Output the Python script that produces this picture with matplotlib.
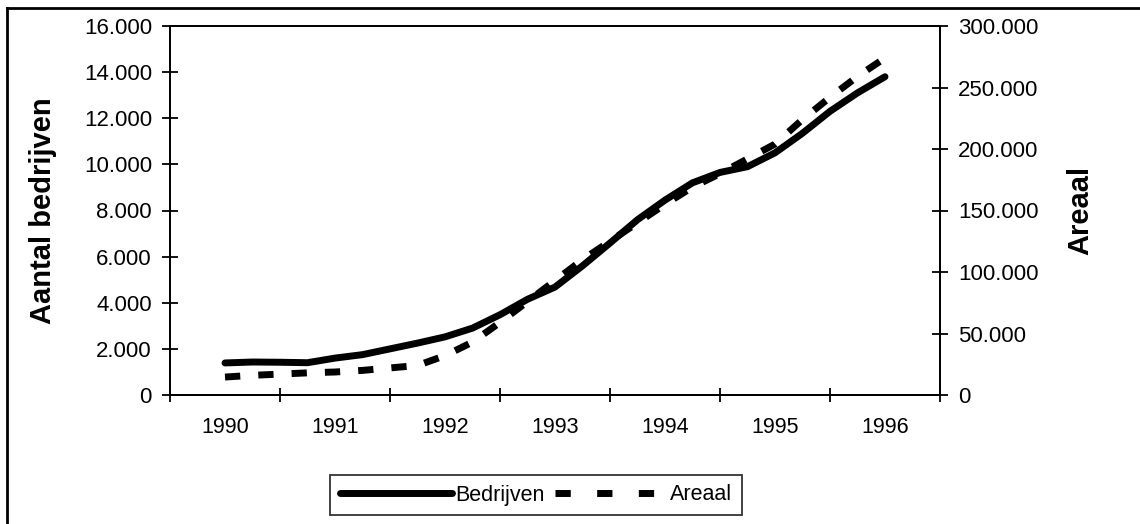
import matplotlib
matplotlib.use("Agg")
import matplotlib.pyplot as plt
from matplotlib.lines import Line2D

plt.rcParams['font.family'] = ['Liberation Sans', 'DejaVu Sans']

# kwartaalwaarden 1990 - 1996
periode = [1990 + k / 4 for k in range(25)]
jaren = ['1990', '1991', '1992', '1993', '1994', '1995', '1996']

bedrijven = [1390, 1430, 1420, 1400, 1600, 1750, 2000, 2250, 2520, 2900,
             3480, 4150, 4680, 5600, 6590, 7600, 8450, 9200, 9650, 9900,
             10500, 11350, 12300, 13100, 13800]
areaal = [14600, 16000, 17000, 18000, 18700, 20000, 22000, 24000, 32000, 43000,
          59000, 76000, 93000, 110000, 125000, 140000, 155000, 169000, 180000, 192000,
          204000, 224000, 242000, 259000, 274000]

fig = plt.figure(figsize=(11.4, 5.24), dpi=100)
ax = fig.add_axes([170 / 1140, 1 - 395 / 524, 770 / 1140, 369 / 524])
ax2 = ax.twinx()

x = [p - 1990 for p in periode]
ax.plot(x, bedrijven, color='black', lw=5, solid_capstyle='round',
        solid_joinstyle='round', zorder=3)
ax2.plot(x, areaal, color='black', lw=5, dashes=(2.2, 2.6),
         dash_capstyle='butt', zorder=2)

ax.set_xlim(-0.5, 6.5)
ax.set_ylim(0, 16000)
ax2.set_ylim(0, 300000)

ax.set_xticks([i - 0.5 for i in range(8)])
ax.set_xticklabels([])
ax.set_xticks(range(7), minor=True)
ax.set_xticklabels(jaren, minor=True)
ax.tick_params(axis='x', which='major', direction='inout', length=10, width=1.3)
ax.tick_params(axis='x', which='minor', length=0, pad=16, labelsize=15.5)

ax.set_yticks(range(0, 16001, 2000))
ax.set_yticklabels(['0'] + [f'{v // 1000}.000' for v in range(2000, 16001, 2000)])
ax.tick_params(axis='y', direction='inout', length=12, width=1.3, pad=7, labelsize=16)

ax2.set_yticks(range(0, 300001, 50000))
ax2.set_yticklabels(['0'] + [f'{v // 1000}.000' for v in range(50000, 300001, 50000)])
ax2.tick_params(axis='y', direction='inout', length=12, width=1.3, pad=7, labelsize=16)

for a in (ax, ax2):
    for s in a.spines.values():
        s.set_linewidth(1.3)

ax.set_ylabel('Aantal bedrijven', fontsize=21, fontweight='bold', labelpad=19)
ax2.set_ylabel('Areaal', fontsize=21, fontweight='bold', labelpad=20)

handles = [Line2D([], [], color='black', lw=5, solid_capstyle='round'),
           Line2D([], [], color='black', lw=5, dashes=(2.2, 3.8), dash_capstyle='butt')]
leg = fig.legend(handles, ['Bedrijven', 'Areaal'], loc='center',
                 bbox_to_anchor=(536 / 1140, 1 - 495 / 524), ncol=2,
                 handlelength=5.2, handletextpad=0.15, columnspacing=0.5,
                 fontsize=15.5, frameon=True, fancybox=False, borderpad=0.45,
                 borderaxespad=0)
leg.get_frame().set_edgecolor('black')
leg.get_frame().set_linewidth(1.3)

# rand om de figuur
fig.add_artist(Line2D([7 / 1140, 7 / 1140], [0, 1 - 8 / 524], color='black', lw=2,
                      transform=fig.transFigure))
fig.add_artist(Line2D([7 / 1140, 1], [1 - 8 / 524, 1 - 8 / 524], color='black', lw=2,
                      transform=fig.transFigure))

fig.savefig('out.png', dpi=100)
